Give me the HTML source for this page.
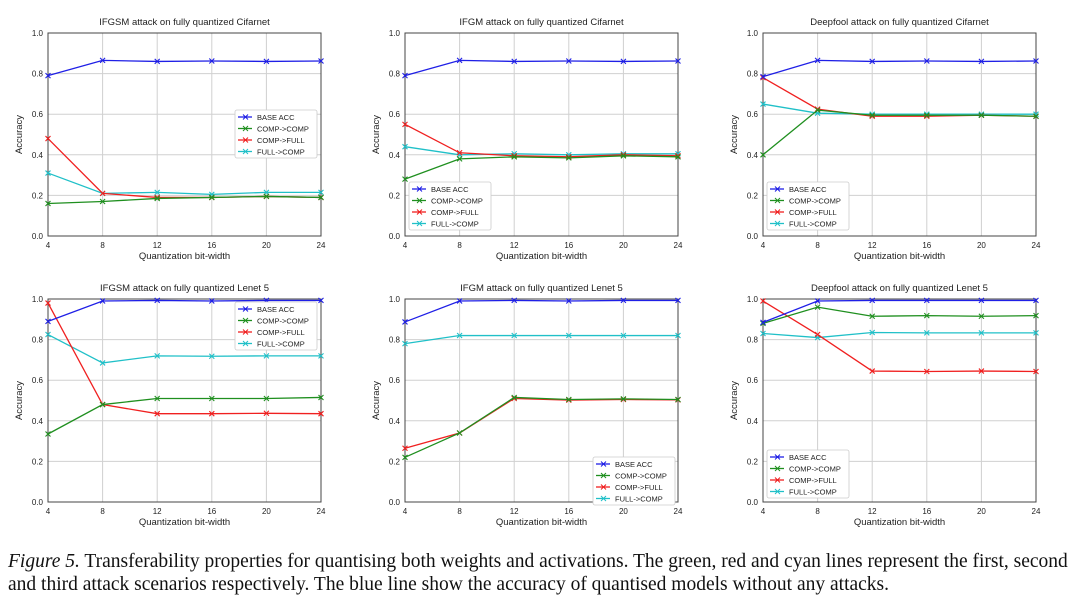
<!DOCTYPE html>
<html><head><meta charset="utf-8"><style>
body{margin:0;background:#fff;width:1080px;height:612px;overflow:hidden;position:relative}
svg text{font-family:"Liberation Sans",sans-serif;fill:#222}
.cap{position:absolute;left:8px;font-family:"Liberation Serif",serif;font-size:19.5px;color:#111;white-space:nowrap}
</style></head><body>
<svg id="chart" width="1080" height="540" style="position:absolute;left:0;top:0"></svg>
<div class="cap" style="top:551px"><i>Figure 5.</i> Transferability properties for quantising both weights and activations. The green, red and cyan lines represent the first, second</div>
<div class="cap" style="top:574px">and third attack scenarios respectively. The blue line show the accuracy of quantised models without any attacks.</div>
<script>
const categories=[4,8,12,16,20,24];
const yTicks=[0,0.2,0.4,0.6,0.8,1.0];
const seriesNames=["BASE ACC","COMP->COMP","COMP->FULL","FULL->COMP"];
const titles=["IFGSM attack on fully quantized Cifarnet","IFGM attack on fully quantized Cifarnet","Deepfool attack on fully quantized Cifarnet","IFGSM attack on fully quantized Lenet 5","IFGM attack on fully quantized Lenet 5","Deepfool attack on fully quantized Lenet 5"];
const baseAcc=[[.79,.865,.86,.862,.86,.862],[.79,.865,.86,.862,.86,.862],[.785,.865,.86,.862,.86,.862],[.89,.99,.993,.99,.993,.993],[.887,.99,.993,.99,.993,.993],[.885,.99,.993,.993,.993,.993]];
const compComp=[[.16,.17,.185,.19,.195,.19],[.28,.38,.39,.385,.395,.39],[.40,.62,.595,.595,.595,.59],[.335,.48,.51,.51,.51,.515],[.22,.34,.515,.505,.508,.505],[.88,.96,.915,.918,.915,.918]];
const compFull=[[.48,.21,.19,.19,.195,.19],[.55,.41,.395,.39,.40,.395],[.78,.625,.59,.59,.595,.59],[.98,.48,.435,.435,.437,.435],[.265,.34,.51,.502,.505,.503],[.99,.825,.645,.643,.645,.643]];
const fullComp=[[.31,.21,.215,.205,.215,.215],[.44,.40,.405,.40,.405,.405],[.65,.605,.60,.60,.60,.60],[.825,.685,.72,.718,.72,.72],[.78,.82,.82,.82,.82,.82],[.83,.81,.835,.833,.833,.833]];
const colors=["#1f1fe6","#1f8f1f","#f02020","#20c0c8"];
const panelX=[48,405,763], panelY=[33,299], pw=273, ph=203;
const legendPos=[[235,110],[409,182],[767,182],[235,302],[593,457],[767,450]];
const NS="http://www.w3.org/2000/svg";
const svg=document.getElementById("chart");
function mk(tag,attrs,parent){const e=document.createElementNS(NS,tag);for(const k in attrs)e.setAttribute(k,attrs[k]);(parent||svg).appendChild(e);return e;}
for(let p=0;p<6;p++){
  const x0=panelX[p%3], y0=panelY[Math.floor(p/3)];
  const g=mk("g",{});
  
  
  const sx=v=>x0+(v-4)/20*pw, sy=v=>y0+ph-v*ph;
  categories.forEach(c=>{const l=mk("line",{x1:sx(c),x2:sx(c),y1:y0,y2:y0+ph,stroke:"#d0d0d0","stroke-width":1},g);
    
    const t=mk("text",{x:sx(c),y:y0+ph+12,"font-size":8,"text-anchor":"middle"},g);t.textContent=c;
    });
  yTicks.forEach(v=>{const l=mk("line",{x1:x0,x2:x0+pw,y1:sy(v),y2:sy(v),stroke:"#d0d0d0","stroke-width":1},g);
    
    const t=mk("text",{x:x0-5,y:sy(v)+3,"font-size":8,"text-anchor":"end"},g);t.textContent=v.toFixed(1);
    });
  const fr=mk("rect",{x:x0,y:y0,width:pw,height:ph,fill:"none",stroke:"#444","stroke-width":1},g);
  
  const tt=mk("text",{x:x0+pw/2,y:y0-8,"font-size":9.5,"text-anchor":"middle"},g);tt.textContent=titles[p];
  
  const xl=mk("text",{x:x0+pw/2,y:y0+ph+23,"font-size":9.5,"text-anchor":"middle"},g);xl.textContent="Quantization bit-width";
  
  const yl=mk("text",{x:0,y:0,"font-size":9.5,"text-anchor":"middle",transform:`translate(${x0-26},${y0+ph/2}) rotate(-90)`},g);yl.textContent="Accuracy";
  
  const all=[baseAcc[p],compComp[p],compFull[p],fullComp[p]];
  [3,2,1,0].forEach(s=>{const d=all[s];
    const pl=mk("polyline",{points:d.map((v,i)=>sx(categories[i])+","+sy(v)).join(" "),fill:"none",stroke:colors[s],"stroke-width":1.3},g);
    
    d.forEach((v,i)=>{const cx=sx(categories[i]),cy=sy(v);
      const m=mk("path",{d:`M${cx-2.5},${cy-2.5}L${cx+2.5},${cy+2.5}M${cx-2.5},${cy+2.5}L${cx+2.5},${cy-2.5}`,stroke:colors[s],"stroke-width":1.1},g);
      });});
  const [lx,ly]=legendPos[p];
  const lg=mk("g",{},g);
  
  mk("rect",{x:lx,y:ly,width:82,height:48,fill:"#fff",stroke:"#ccc","stroke-width":0.8,rx:2},lg);
  seriesNames.forEach((n,s)=>{const yy=ly+7+s*11.5;
    mk("line",{x1:lx+3,x2:lx+17,y1:yy,y2:yy,stroke:colors[s],"stroke-width":1.3},lg);
    mk("path",{d:`M${lx+8},${yy-2.5}L${lx+13},${yy+2.5}M${lx+8},${yy+2.5}L${lx+13},${yy-2.5}`,stroke:colors[s],"stroke-width":1},lg);
    const t=mk("text",{x:lx+22,y:yy+2.8,"font-size":7.5},lg);t.textContent=n;
    });
}
</script>
</body></html>
